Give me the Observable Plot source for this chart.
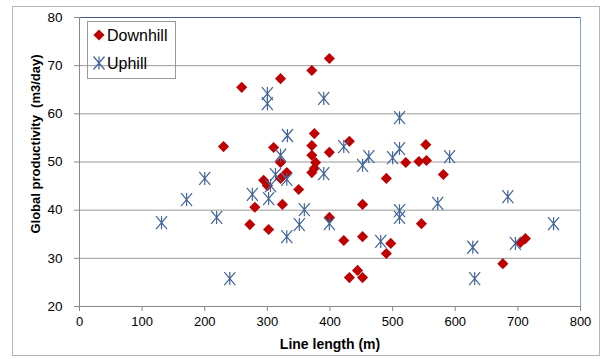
<!DOCTYPE html>
<html><head><meta charset="utf-8">
<script src="https://cdn.jsdelivr.net/npm/d3@7"></script>
<script src="https://cdn.jsdelivr.net/npm/@observablehq/plot@0.6"></script>
<style>
body{margin:0;background:#fff;}
#wrap{position:relative;width:603px;height:359px;font-family:"Liberation Sans",Arial,sans-serif;}
#border{position:absolute;left:12px;top:6px;width:586px;height:348px;border:1px solid #b4b4b4;pointer-events:none;}
#wrap svg{position:absolute;left:0;top:0;}
</style></head><body><div id="wrap"><div id="border"></div></div>
<script>
// Downhill series
const downhillLength = [230,259,272,280,294,300,302,310,321,321,321,324,331,350,371,371,371,371,375,377,375,399,399,399,422,431,431,444,452,452,452,490,490,497,521,542,546,553,554,581,676,704,712];
const downhillProd   = [53.2,65.5,37.0,40.6,46.2,45.1,36.0,53.0,67.3,49.9,46.6,41.2,47.8,44.3,69.0,53.4,51.4,47.8,48.7,49.9,55.9,71.5,52.0,38.5,33.7,54.3,26.0,27.5,26.0,41.2,34.5,46.6,31.0,33.1,49.9,50.1,37.2,53.6,50.3,47.4,28.9,33.3,34.1];
// Uphill series
const uphillLength = [131,171,200,219,240,276,300,300,302,305,313,321,331,332,331,351,359,390,390,399,422,452,462,481,500,511,511,511,511,572,591,628,631,684,696,757];
const uphillProd   = [37.4,42.2,46.6,38.5,25.8,43.3,64.2,62.1,42.4,45.1,47.4,51.4,46.4,55.5,34.5,37.0,40.1,63.2,47.6,37.2,53.2,49.3,51.1,33.5,50.9,59.2,52.8,39.9,38.5,41.4,51.1,32.3,25.8,42.8,33.1,37.2];

const seriesNames = ["Downhill", "Uphill"];
const xTicks = [0,100,200,300,400,500,600,700,800];
const yTicks = [20,30,40,50,60,70,80];
const xLabel = "Line length (m)";
const yLabel = "Global productivity  (m3/day)";

const red = "#c00000", blue = "#41649a";

const downhill = downhillLength.map((x, i) => ({x, y: downhillProd[i]}));
const uphill = uphillLength.map((x, i) => ({x, y: uphillProd[i]}));

// Excel-like star marker: vertical spoke + X
const star = {draw(ctx) {
  const w = 5.5, h = 6.5;
  ctx.moveTo(0, -h); ctx.lineTo(0, h);
  ctx.moveTo(-w, -h); ctx.lineTo(w, h);
  ctx.moveTo(-w, h); ctx.lineTo(w, -h);
}};

const chart = Plot.plot({
  width: 603, height: 359,
  marginLeft: 79, marginRight: 23, marginTop: 17, marginBottom: 53,
  style: {fontFamily: "'Liberation Sans', Arial, sans-serif", fontSize: "13px", background: "transparent", color: "#000", overflow: "visible"},
  x: {domain: [0, 800], label: null},
  y: {domain: [20, 80], label: null},
  marks: [
    Plot.gridY(yTicks, {stroke: "#9a9a9a", strokeOpacity: 1}),
    Plot.ruleY([80], {stroke: "#3f5f8f"}),
    Plot.ruleX([800], {stroke: "#86a3cf"}),
    Plot.axisY(yTicks, {tickSize: 5, tickPadding: 12, stroke: "#888", fontSize: 13.5, label: null}),
    Plot.axisX(xTicks, {tickSize: 5, tickPadding: 5, stroke: "#888", fontSize: 13, label: null}),
    Plot.ruleX([0], {stroke: "#888"}),
    Plot.ruleY([20], {stroke: "#888"}),
    Plot.dot(downhill, {x: "x", y: "y", symbol: "diamond2", r: 5, fill: red, stroke: "none"}),
    Plot.dot(uphill, {x: "x", y: "y", symbol: star, fill: "none", stroke: blue, strokeWidth: 1.2}),
    Plot.text([yLabel], {text: d => d, frameAnchor: "left", textAnchor: "middle", lineAnchor: "middle", rotate: -90, dx: -44, dy: -18, fontWeight: "bold", fontSize: 13}),
    Plot.text([xLabel], {text: d => d, frameAnchor: "bottom", textAnchor: "middle", lineAnchor: "middle", dy: 38, fontWeight: "bold", fontSize: 14})
  ]
});
document.getElementById("wrap").appendChild(chart);

// Legend overlay
const leg = d3.select("#wrap").append("svg").attr("width", 603).attr("height", 359)
  .style("pointer-events", "none");
leg.append("rect").attr("x", 87.5).attr("y", 21.5).attr("width", 88).attr("height", 57)
  .attr("fill", "none").attr("stroke", "#999");
const rows = [{name: seriesNames[0], y: 35}, {name: seriesNames[1], y: 63}];
leg.append("path").attr("transform", `translate(99,${rows[0].y})`)
  .attr("d", d3.symbol(d3.symbolDiamond2, Math.PI * 25)()).attr("fill", red);
leg.append("path").attr("transform", `translate(99,${rows[1].y})`)
  .attr("d", "M0,-6.5L0,6.5M-5.5,-6.5L5.5,6.5M-5.5,6.5L5.5,-6.5").attr("fill", "none").attr("stroke", blue).attr("stroke-width", 1.2);
leg.selectAll("text.l").data(rows).join("text").attr("class", "l")
  .attr("x", 107).attr("y", d => d.y + 5.5).attr("font-size", 16)
  .attr("font-family", "'Liberation Sans', Arial, sans-serif").text(d => d.name);
</script></body></html>
